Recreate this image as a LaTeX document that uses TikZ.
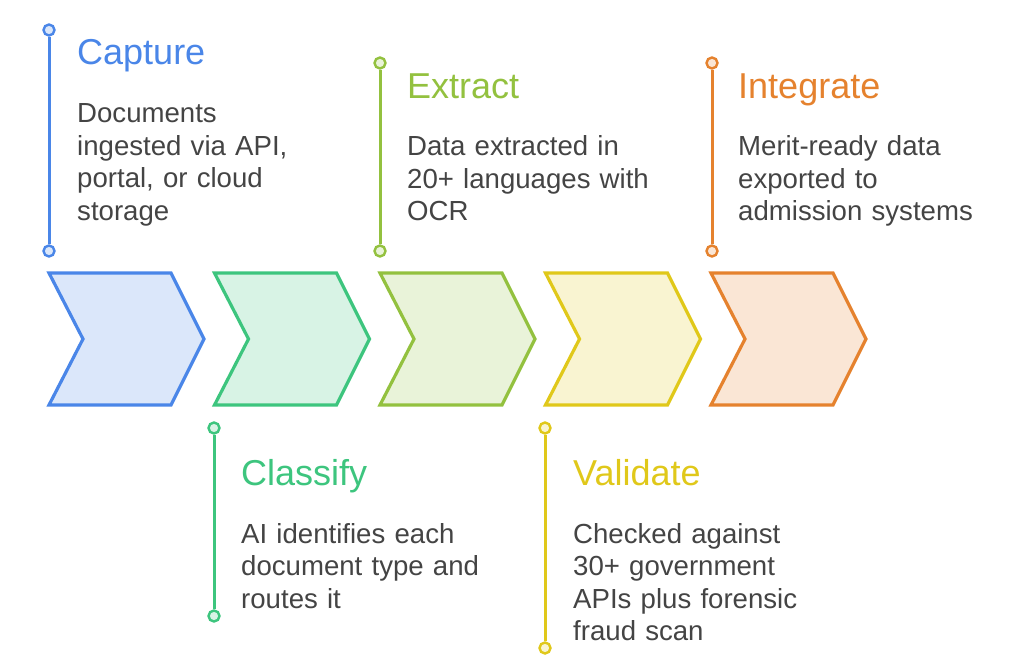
\documentclass[tikz,border=0pt]{standalone}
\usepackage{fontspec}
\setmainfont{Liberation Sans}
\usetikzlibrary{positioning}
\definecolor{capblue}{HTML}{4A86E8}
\definecolor{clsgreen}{HTML}{3DC57E}
\definecolor{extolive}{HTML}{93C13F}
\definecolor{valyellow}{HTML}{E0C81A}
\definecolor{intorange}{HTML}{E5822E}
\definecolor{bodygray}{HTML}{444444}

\begin{document}
\begin{tikzpicture}[x=1pt,y=-1pt,
chev/.style={line width=3.2pt, line join=miter},
stem/.style={line width=3pt},
knob/.style={circle, draw, line width=2.4pt, minimum size=11pt, inner sep=0pt},
title/.style={anchor=base west, inner sep=0pt, font=\fontsize{36}{40}\selectfont},
body/.style={anchor=base west, inner sep=0pt, text width=280pt, align=left,
    text=bodygray, font=\fontsize{27.6}{32.5}\selectfont}]
\useasboundingbox (0,0) rectangle (1024,671);
% chevrons
\foreach \x/\c in {49/capblue,214.5/clsgreen,380/extolive,545.5/valyellow,711/intorange}{
  \draw[chev, draw=\c, fill=\c!20] (\x,273) -- ++(122,0) -- ++(33,66)
    -- ++(-33,66) -- ++(-122,0) -- ++(34,-66) -- cycle;
}
% stems above
\node[knob, draw=capblue, fill=capblue!20] (capTop) at (49,30) {};
\node[knob, draw=capblue, fill=capblue!20] (capBot) at (49,251) {};
\draw[stem, capblue] (capTop) -- (capBot);
\node[knob, draw=extolive, fill=extolive!20] (extTop) at (380,63) {};
\node[knob, draw=extolive, fill=extolive!20] (extBot) at (380,251) {};
\draw[stem, extolive] (extTop) -- (extBot);
\node[knob, draw=intorange, fill=intorange!20] (intTop) at (712,63) {};
\node[knob, draw=intorange, fill=intorange!20] (intBot) at (712,251) {};
\draw[stem, intorange] (intTop) -- (intBot);
% stems below
\node[knob, draw=clsgreen, fill=clsgreen!20] (clsTop) at (214,428) {};
\node[knob, draw=clsgreen, fill=clsgreen!20] (clsBot) at (214,616) {};
\draw[stem, clsgreen] (clsTop) -- (clsBot);
\node[knob, draw=valyellow, fill=valyellow!20] (valTop) at (545,428) {};
\node[knob, draw=valyellow, fill=valyellow!20] (valBot) at (545,648) {};
\draw[stem, valyellow] (valTop) -- (valBot);
% labels
\node[title, text=capblue] (capTitle) at (77,65) {Capture};
\node[body] (capText) at (77,123) {Documents\\ingested via API,\\portal, or cloud\\storage};
\node[title, text=extolive] (extTitle) at (407,99) {Extract};
\node[body] (extText) at (407,156) {Data extracted in\\20+ languages with\\OCR};
\node[title, text=intorange] (intTitle) at (738,99) {Integrate};
\node[body] (intText) at (738,156) {Merit-ready data\\exported to\\admission systems};
\node[title, text=clsgreen] (clsTitle) at (241,485) {Classify};
\node[body] (clsText) at (241,543) {AI identifies each\\document type and\\routes it};
\node[title, text=valyellow] (valTitle) at (573,485) {Validate};
\node[body] (valText) at (573,543) {Checked against\\30+ government\\APIs plus forensic\\fraud scan};
\end{tikzpicture}
\end{document}
